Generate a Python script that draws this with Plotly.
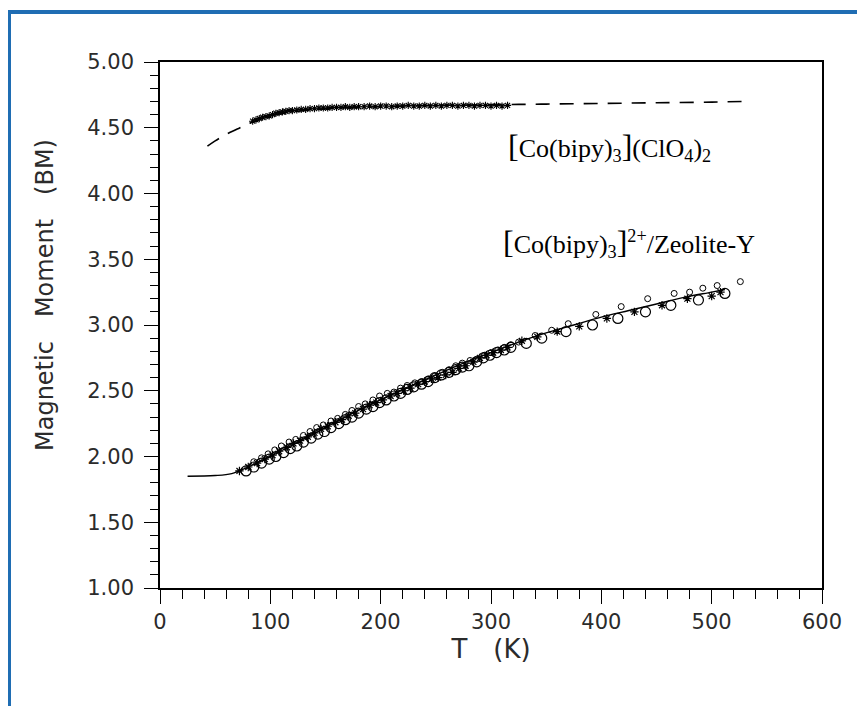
import plotly.graph_objects as go

# ---------------- data ----------------
# [Co(bipy)3](ClO4)2 : measured points
T_clo4 = [84, 87, 90, 93, 96, 99, 102, 105, 108, 111, 114, 117, 120, 124, 128, 132, 136, 140,
          144, 148, 152, 156, 160, 164, 168, 172, 176, 180, 185, 190, 195, 200, 205, 210, 215,
          220, 225, 230, 235, 240, 245, 250, 255, 260, 265, 270, 275, 280, 285, 290, 295, 300,
          305, 310, 315]
mu_clo4 = [4.55, 4.56, 4.57, 4.58, 4.585, 4.59, 4.60, 4.61, 4.615, 4.62, 4.625, 4.63, 4.63,
           4.635, 4.64, 4.64, 4.645, 4.645, 4.65, 4.65, 4.65, 4.655, 4.655, 4.655, 4.66, 4.655,
           4.66, 4.66, 4.66, 4.665, 4.66, 4.665, 4.665, 4.66, 4.665, 4.665, 4.67, 4.665, 4.665,
           4.67, 4.665, 4.67, 4.665, 4.67, 4.67, 4.665, 4.67, 4.67, 4.665, 4.67, 4.67, 4.665,
           4.67, 4.665, 4.67]
# [Co(bipy)3](ClO4)2 : calculated (dashed)
T_clo4_fit = [43, 50, 60, 70, 80, 90, 100, 120, 150, 200, 250, 300, 350, 400, 450, 500, 530]
mu_clo4_fit = [4.36, 4.40, 4.45, 4.49, 4.53, 4.56, 4.59, 4.62, 4.645, 4.66, 4.67, 4.675,
               4.68, 4.685, 4.69, 4.695, 4.70]

# [Co(bipy)3]2+/Zeolite-Y : calculated (solid)
T_zeo_fit = [25, 50, 65, 80, 100, 125, 150, 175, 200, 225, 250, 275, 300, 325, 350, 375, 400,
             425, 450, 475, 500, 512]
mu_zeo_fit = [1.85, 1.855, 1.87, 1.92, 2.00, 2.11, 2.22, 2.33, 2.43, 2.53, 2.62, 2.71, 2.79,
              2.87, 2.94, 3.00, 3.06, 3.11, 3.16, 3.21, 3.25, 3.27]

# Zeolite-Y measured: large open circles
T_zeo_a = [78, 85, 92, 99, 105, 112, 118, 124, 130, 137, 143, 149, 155, 162, 168, 174, 180,
           187, 193, 199, 205, 212, 218, 224, 230, 237, 243, 249, 255, 262, 268, 274, 280, 287,
           293, 299, 305, 312, 318, 332, 346, 368, 392, 415, 440, 463, 488, 512]
mu_zeo_a = [1.89, 1.92, 1.95, 1.98, 2.00, 2.03, 2.06, 2.08, 2.11, 2.14, 2.17, 2.19, 2.22, 2.25,
            2.28, 2.30, 2.33, 2.36, 2.38, 2.41, 2.43, 2.46, 2.48, 2.51, 2.53, 2.55, 2.57, 2.60,
            2.62, 2.64, 2.66, 2.68, 2.69, 2.72, 2.75, 2.77, 2.79, 2.81, 2.83, 2.86, 2.90, 2.95,
            3.00, 3.05, 3.10, 3.15, 3.19, 3.24]
# Zeolite-Y measured: small open circles
T_zeo_b = [85, 92, 98, 104, 110, 117, 123, 130, 136, 142, 148, 155, 161, 168, 174, 180, 186,
           193, 199, 206, 212, 218, 224, 231, 237, 243, 249, 256, 262, 268, 274, 281, 287, 294,
           300, 306, 312, 318, 325, 340, 355, 370, 395, 418, 442, 466, 480, 492, 505, 526]
mu_zeo_b = [1.96, 1.99, 2.02, 2.05, 2.08, 2.11, 2.13, 2.16, 2.19, 2.22, 2.24, 2.27, 2.29, 2.32,
            2.35, 2.38, 2.40, 2.43, 2.46, 2.48, 2.49, 2.52, 2.54, 2.56, 2.57, 2.59, 2.61, 2.64,
            2.66, 2.69, 2.71, 2.73, 2.74, 2.77, 2.79, 2.81, 2.83, 2.85, 2.87, 2.92, 2.96, 3.01,
            3.08, 3.14, 3.20, 3.24, 3.25, 3.28, 3.30, 3.33]
# Zeolite-Y measured: asterisks
T_zeo_c = [72, 80, 88, 95, 102, 108, 115, 121, 127, 134, 140, 146, 152, 159, 165, 171, 177,
           184, 190, 196, 202, 209, 215, 221, 227, 234, 240, 246, 252, 259, 265, 271, 277, 284,
           290, 296, 302, 309, 315, 328, 342, 360, 380, 405, 430, 455, 478, 500, 508]
mu_zeo_c = [1.89, 1.92, 1.95, 1.98, 2.01, 2.04, 2.07, 2.10, 2.12, 2.15, 2.18, 2.21, 2.23, 2.26,
            2.28, 2.31, 2.33, 2.36, 2.39, 2.41, 2.43, 2.46, 2.48, 2.50, 2.52, 2.55, 2.57, 2.59,
            2.60, 2.62, 2.64, 2.67, 2.69, 2.72, 2.75, 2.77, 2.79, 2.81, 2.83, 2.88, 2.91, 2.95,
            2.99, 3.05, 3.10, 3.15, 3.20, 3.22, 3.25]

x_ticks = [0, 100, 200, 300, 400, 500, 600]
y_ticks = [1.00, 1.50, 2.00, 2.50, 3.00, 3.50, 4.00, 4.50, 5.00]
y_ticklabels = ["1.00", "1.50", "2.00", "2.50", "3.00", "3.50", "4.00", "4.50", "5.00"]

label_clo4 = ("<span style='font-size:32px'>[</span>Co(bipy)<sub>3</sub>"
              "<span style='font-size:32px'>]</span>(ClO<sub>4</sub>)<sub>2</sub>")
label_zeo = ("<span style='font-size:32px'>[</span>Co(bipy)<sub>3</sub>"
             "<span style='font-size:32px'>]</span><sup>2+</sup>/Zeolite-Y")

# ---------------- figure ----------------
# the page adds an 8px body margin, so the figure is 16px smaller than the window
W, H = 857, 698
ML, MR, MT, MB = 152, 43, 54, 118
PW, PH = W - ML - MR, H - MT - MB

fig = go.Figure()

fig.add_trace(go.Scatter(x=T_clo4_fit, y=mu_clo4_fit, mode="lines", line_shape="spline",
                         line=dict(color="black", width=1.6, dash="14px,10px"),
                         showlegend=False, hoverinfo="skip"))
fig.add_trace(go.Scatter(x=T_clo4, y=mu_clo4, mode="markers",
                         marker=dict(symbol="asterisk-open", size=6, color="black",
                                     line=dict(color="black", width=1.1)),
                         showlegend=False))
fig.add_trace(go.Scatter(x=T_zeo_fit, y=mu_zeo_fit, mode="lines", line_shape="spline",
                         line=dict(color="black", width=1.4),
                         showlegend=False, hoverinfo="skip"))
fig.add_trace(go.Scatter(x=T_zeo_a, y=mu_zeo_a, mode="markers",
                         marker=dict(symbol="circle-open", size=10, color="black",
                                     line=dict(color="black", width=1.2)),
                         showlegend=False))
fig.add_trace(go.Scatter(x=T_zeo_b, y=mu_zeo_b, mode="markers",
                         marker=dict(symbol="circle-open", size=6, color="black",
                                     line=dict(color="black", width=1)),
                         showlegend=False))
fig.add_trace(go.Scatter(x=T_zeo_c, y=mu_zeo_c, mode="markers",
                         marker=dict(symbol="asterisk-open", size=7, color="black",
                                     line=dict(color="black", width=1.2)),
                         showlegend=False))

axis_font = dict(family="DejaVu Sans", size=21, color="#2b2b2b")

fig.update_xaxes(range=[0, 600], tickvals=x_ticks, ticks="outside", ticklen=14, tickwidth=1.3,
                 tickcolor="black", showline=True, linecolor="black", linewidth=1.6,
                 mirror=True, showgrid=False, zeroline=False, tickfont=axis_font,
                 minor=dict(dtick=20, ticks="outside", ticklen=9, tickwidth=1.2,
                            tickcolor="black", showgrid=False),
                 title=dict(text="T\u2002\u2002(K)", font=dict(family="DejaVu Sans", size=26,
                                                              color="#2b2b2b"), standoff=4))
fig.update_yaxes(range=[1, 5], tickvals=y_ticks, ticktext=y_ticklabels, ticks="outside",
                 ticklen=14, tickwidth=1.3, tickcolor="black", showline=True,
                 linecolor="black", linewidth=1.6, mirror=True, showgrid=False,
                 zeroline=False, tickfont=axis_font, ticklabelstandoff=6,
                 minor=dict(dtick=0.1, ticks="outside", ticklen=8, tickwidth=1.2,
                            tickcolor="black", showgrid=False))

def px_x(p):
    # page pixel -> paper coordinate
    return (p - 8 - ML) / PW

def px_y(p):
    return (H - MB - (p - 8)) / PH

# y-axis title, placed where the reference has it
fig.add_annotation(x=px_x(45), y=px_y(295), xref="paper", yref="paper",
                   text="Magnetic\u2002\u2002Moment\u2002\u2002(BM)", textangle=-90,
                   showarrow=False, xanchor="center", yanchor="middle",
                   font=dict(family="DejaVu Sans", size=24, color="#2b2b2b"))

fig.add_annotation(x=314, y=4.35, xref="x", yref="y", text=label_clo4, showarrow=False,
                   xanchor="left", yanchor="middle",
                   font=dict(family="Liberation Serif", size=26, color="black"))
fig.add_annotation(x=309, y=3.62, xref="x", yref="y", text=label_zeo, showarrow=False,
                   xanchor="left", yanchor="middle",
                   font=dict(family="Liberation Serif", size=26, color="black"))

# blue frame (top and left edges)
border = dict(color="#1f6db3", width=4)
fig.add_shape(type="line", xref="paper", yref="paper", x0=px_x(7), x1=px_x(870),
              y0=px_y(12), y1=px_y(12), line=border)
fig.add_shape(type="line", xref="paper", yref="paper", x0=px_x(9), x1=px_x(9),
              y0=px_y(10), y1=px_y(710), line=border)

fig.update_layout(width=W, height=H, margin=dict(l=ML, r=MR, t=MT, b=MB),
                  paper_bgcolor="white", plot_bgcolor="white", showlegend=False)

fig.write_html("out.html")
